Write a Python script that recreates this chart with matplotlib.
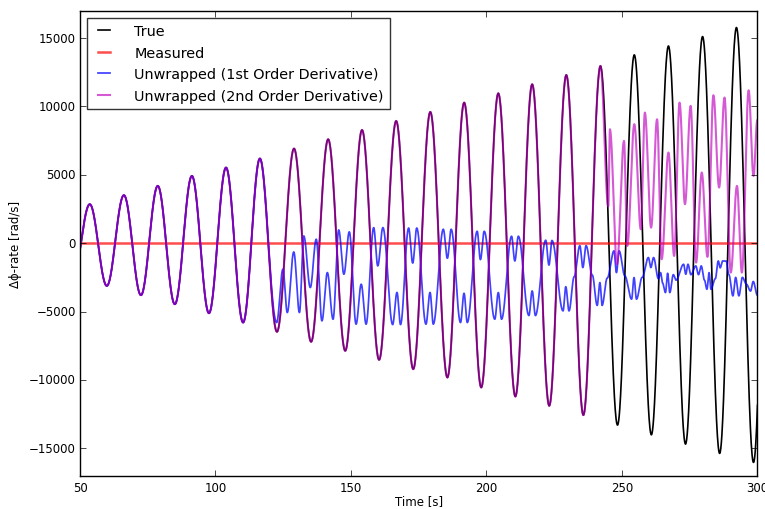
import numpy as np
import matplotlib
matplotlib.use("Agg")
import matplotlib.pyplot as plt

# ---------------------------------------------------------------------------
# Turning points of each trace: time [s] and Δϕ-rate [rad/s]
# ---------------------------------------------------------------------------
true_t = [47.3, 53.6, 59.9, 66.2, 72.5, 78.7, 85.0, 91.3, 97.6, 103.9, 110.2,
          116.4, 122.7, 129.0, 135.3, 141.6, 147.9, 154.1, 160.4, 166.7, 173.0,
          179.3, 185.6, 191.8, 198.1, 204.4, 210.7, 216.9, 223.2, 229.5, 235.8,
          242.1, 248.4, 254.6, 260.9, 267.2, 273.5, 279.8, 286.1, 292.3, 298.6,
          304.9]
true_v = [-2570, 2850, -3120, 3510, -3800, 4190, -4460, 4920, -5120, 5530, -5800,
          6190, -6480, 6920, -7210, 7600, -7870, 8280, -8530, 8940, -9210,
          9600, -9820, 10280, -10550, 10960, -11210, 11620, -11890, 12300, -12570,
          12960, -13300, 13770, -14010, 14420, -14690, 15110, -15370, 15770, -16030,
          16450]

# measured (wrapped) rate stays at zero on this scale
meas_t = [50.0, 300.0]
meas_v = [0.0, 0.0]

# 1st-order unwrapping: follows the true rate up to this peak, then departs
blue_split = 116.4
blue_tail_t = [122.6, 124.9, 126.5, 128.9, 131.0, 132.6, 135.0, 137.2, 139.3, 141.3,
               143.4, 145.5, 147.4, 149.4, 151.9, 153.8, 155.6, 158.4, 159.9, 161.8,
               165.4, 167.0, 168.3, 171.3, 172.8, 174.3, 177.7, 179.2, 180.4, 184.1,
               185.6, 187.0, 190.45, 191.75, 192.95, 196.6, 197.8, 199.2, 203.1, 204.4,
               205.6, 209.3, 210.5, 211.8, 215.7, 216.9, 218.1, 221.9, 223.1, 224.2,
               228.3, 229.3, 230.5, 232.4, 234.5, 235.6, 236.8, 239.1, 240.9, 241.9,
               242.7, 244.6, 247.1, 248.0, 249.0, 251.1, 253.6, 254.5, 255.4, 257.5,
               259.8, 260.7, 261.7, 263.5, 264.3, 265.0, 266.1, 266.9, 267.7, 269.0,
               270.0, 272.8, 273.6, 274.4, 275.5, 277.3, 278.3, 279.3, 280.5, 281.4,
               282.2, 282.9, 284.5, 285.6, 286.3, 287.2, 288.5, 289.5, 291.0, 292.0,
               293.2, 294.5, 296.0, 297.5, 298.5, 300.0]
blue_tail_v = [-5800, -1900, -5070, -640, -5070, 530, -3240, 290, -5680, -2150,
               -5560, 970, -2270, 830, -5920, -3000, -5920, 1140, -1660, 1140,
               -5950, -3600, -5950, 1110, -1450, 1110, -5920, -3600, -5920, 1020,
               -1100, 1020, -5800, -3660, -5800, 870, -1200, 870, -5560, -3610,
               -5560, 510, -1300, 510, -5290, -3490, -5290, 220, -1600, 200,
               -4950, -3180, -4950, -2450, -180, -1780, -180, -2330, -4550, -2880,
               -4550, -2550, -560, -2150, -560, -2390, -4090, -2510, -4090, -2500,
               -1050, -1780, -1050, -2600, -2150, -2900, -3610, -2200, -3610, -2300,
               -2700, -1540, -2270, -1540, -2300, -1660, -2300, -1660, -2700, -3370,
               -2150, -3370, -2600, -1300, -1800, -1300, -1300, -2300, -3850, -2500,
               -3850, -2500, -3000, -3500, -2800, -3800]

# 2nd-order unwrapping: follows the true rate up to this peak, then departs
mag_split = 242.1
mag_tail_t = [245.0, 245.6, 248.2, 250.8, 252.0, 254.6, 257.0, 258.5, 260.8, 263.0,
              264.7, 267.2, 269.3, 271.3, 273.3, 275.4, 277.4, 279.5, 281.6, 283.8,
              285.9, 287.9, 290.2, 292.5, 294.3, 296.8, 298.6, 300.0]
mag_tail_v = [2700, 8330, -1540, 7480, -200, 8700, 1020, 9550, 1140, 9060,
              -1170, 6630, -930, 10280, 2850, 10040, -1420, 5170, -1000, 10820,
              4070, 10650, -2150, 4190, -2150, 11180, 4920, 9000]

labels = ["True", "Measured", "Unwrapped (1st Order Derivative)",
          "Unwrapped (2nd Order Derivative)"]


def eased(tk, vk, n=60):
    """Join consecutive turning points with half-cosine arcs."""
    ts, vs = [], []
    for t0, t1, v0, v1 in zip(tk[:-1], tk[1:], vk[:-1], vk[1:]):
        s = np.linspace(0.0, 1.0, n, endpoint=False)
        w = 0.5 * (1.0 - np.cos(np.pi * s))
        ts.append(t0 + (t1 - t0) * s)
        vs.append(v0 + (v1 - v0) * w)
    ts.append([tk[-1]])
    vs.append([vk[-1]])
    return np.concatenate(ts), np.concatenate(vs)


def joined(split, tail_t, tail_v):
    head_t = [t for t in true_t if t <= split]
    head_v = true_v[:len(head_t)]
    return head_t + list(tail_t), head_v + list(tail_v)


plt.style.use("classic")
plt.rcParams.update({
    "font.family": ["DejaVu Sans"],
    "font.size": 8.5,
    "xtick.labelsize": 8.5,
    "ytick.labelsize": 8.5,
    "axes.labelsize": 8.5,
    "xtick.major.pad": 4,
    "ytick.major.pad": 3,
})

fig = plt.figure(figsize=(7.65, 5.1), dpi=100, facecolor="white")
ax = fig.add_axes([80 / 765, 1 - 476.7 / 510, (757.3 - 80) / 765, (476.7 - 11.7) / 510])
ax.set_facecolor("white")

tt, tv = eased(true_t, true_v)
ax.plot(tt, tv, color="black", lw=1.2, label=labels[0])
ax.plot(meas_t, meas_v, color="red", alpha=0.7, lw=1.8, label=labels[1])
bt, bv = eased(*joined(blue_split, blue_tail_t, blue_tail_v))
ax.plot(bt, bv, color="blue", alpha=0.75, lw=1.25, label=labels[2])
mt, mv = eased(*joined(mag_split, mag_tail_t, mag_tail_v))
ax.plot(mt, mv, color="m", alpha=0.65, lw=1.5, label=labels[3])

ax.set_xlim(50, 300)
ax.set_ylim(-17000, 17000)
ax.set_xticks(np.arange(50, 301, 50))
ax.set_yticks(np.arange(-15000, 15001, 5000))
ax.set_xlabel("Time [s]", labelpad=0)
ax.set_ylabel("Δϕ-rate [rad/s]")

leg = ax.legend(loc="upper left", fontsize=10.4, handlelength=1.4,
                handletextpad=1.4, labelspacing=0.52, borderpad=0.45,
                borderaxespad=0.5, numpoints=2, fancybox=False)
leg.get_frame().set_edgecolor("#333333")

fig.savefig("out.png", dpi=100, facecolor="white")
